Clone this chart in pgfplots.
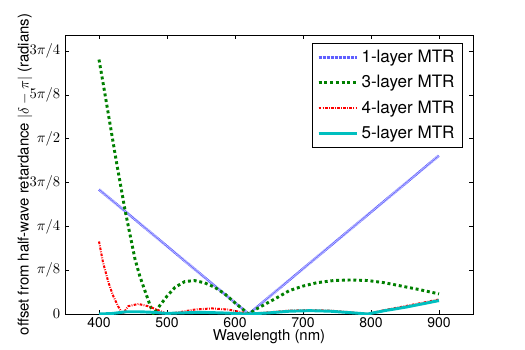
\documentclass[border=0pt]{standalone}
\usepackage{fontspec}
\setmainfont{TeX Gyre Heros}
\usepackage{pgfplots}
\pgfplotsset{compat=1.18}

\definecolor{mplblue}{RGB}{95,95,255}
\definecolor{mplgreen}{RGB}{0,128,0}
\definecolor{mplred}{RGB}{255,0,0}
\definecolor{mplcyan}{RGB}{0,191,191}

\begin{document}
\begin{tikzpicture}
\begin{axis}[
    at={(0,0)}, anchor=south west,
    width=306pt, height=209.25pt, scale only axis,
    xmin=350, xmax=950,
    ymin=0, ymax=2.5,
    xtick={400,500,600,700,800,900},
    xticklabels={400,500,600,700,800,900},
    ytick={0,0.392699,0.785398,1.178097,1.570796,1.963495,2.356194},
    yticklabels={$0$,$\pi/8$,$\pi/4$,$3\pi/8$,$\pi/2$,$5\pi/8$,$3\pi/4$},
    tick align=inside,
    major tick length=3pt,
    tick style={black, line width=0.4pt},
    axis line style={black, line width=0.6pt},
    xticklabel style={font=\fontsize{10.5}{12}\selectfont, inner sep=0pt, yshift=-2.6pt},
    yticklabel style={font=\fontsize{10.5}{12}\selectfont},
    xlabel={Wavelength (nm)},
    ylabel={offset from half-wave retardance $|\delta-\pi|$ (radians)},
    xlabel style={font=\fontsize{11.2}{13}\selectfont, inner sep=0pt, at={(axis description cs:0.5,-0.081)}, anchor=center},
    ylabel style={font=\fontsize{11.2}{13}\selectfont, at={(axis description cs:-0.098,0.5)}, anchor=center},
    legend style={at={(0.975,0.971)}, anchor=north east, draw=black, line width=0.4pt,
        font=\fontsize{12.8}{15}\selectfont, row sep=4.2pt, inner xsep=4pt, inner ysep=3pt},
    legend cell align=left,
    legend image code/.code={\draw[#1] (0pt,0pt) -- (20pt,0pt); \path (0pt,0pt) -- (29pt,0pt);},
]
% 1-layer
\addplot[mplblue, line width=2pt, dash pattern=on 0.5pt off 0.5pt]
    coordinates {(400,1.115) (500,0.608) (620,0) (700,0.406) (800,0.913) (900,1.42)};
\addlegendentry{1-layer MTR}

% 3-layer
\addplot[mplgreen, line width=2.2pt, dash pattern=on 2.2pt off 2.1pt]
    coordinates {(400,2.28) (406,2.07) (411,1.89) (416,1.71) (421,1.53) (426,1.35)
    (431,1.18) (438,0.94) (446,0.70) (453,0.49) (460,0.34) (468,0.20) (475,0.08)
    (480,0.0) (490,0.08) (500,0.16) (512,0.24) (526,0.29) (540,0.30) (555,0.28)
    (570,0.24) (585,0.18) (600,0.10) (612,0.04) (620,0.0) (630,0.04) (645,0.09)
    (660,0.14) (680,0.21) (700,0.25) (720,0.28) (745,0.30) (770,0.305) (795,0.30)
    (820,0.28) (845,0.25) (870,0.22) (900,0.18)};
\addlegendentry{3-layer MTR}

% 4-layer
\addplot[mplred, line width=1.5pt, dash pattern=on 2pt off 1pt on 0.6pt off 1pt]
    coordinates {(400,0.65) (406,0.46) (414,0.28) (421,0.16) (428,0.07) (435,0.0)
    (443,0.07) (458,0.09) (472,0.07) (485,0.04) (500,0.0) (517,0.015) (541,0.04)
    (566,0.05) (590,0.04) (610,0.015) (620,0.0) (650,0.015) (680,0.03) (710,0.035)
    (740,0.03) (770,0.015) (795,0.0) (820,0.035) (850,0.07) (875,0.10) (900,0.13)};
\addlegendentry{4-layer MTR}

% 5-layer
\addplot[mplcyan, line width=2.2pt]
    coordinates {(400,0.0) (420,0.005) (440,0.02) (460,0.02) (480,0.015) (500,0.005)
    (520,0.01) (550,0.015) (580,0.01) (600,0.005) (620,0.0) (650,0.01) (680,0.025)
    (710,0.03) (740,0.025) (770,0.012) (795,0.0) (820,0.03) (850,0.06) (875,0.09)
    (900,0.12)};
\addlegendentry{5-layer MTR}
\end{axis}
\path (-48.75pt,-27pt) rectangle (345pt,235.5pt);
\end{tikzpicture}
\end{document}
